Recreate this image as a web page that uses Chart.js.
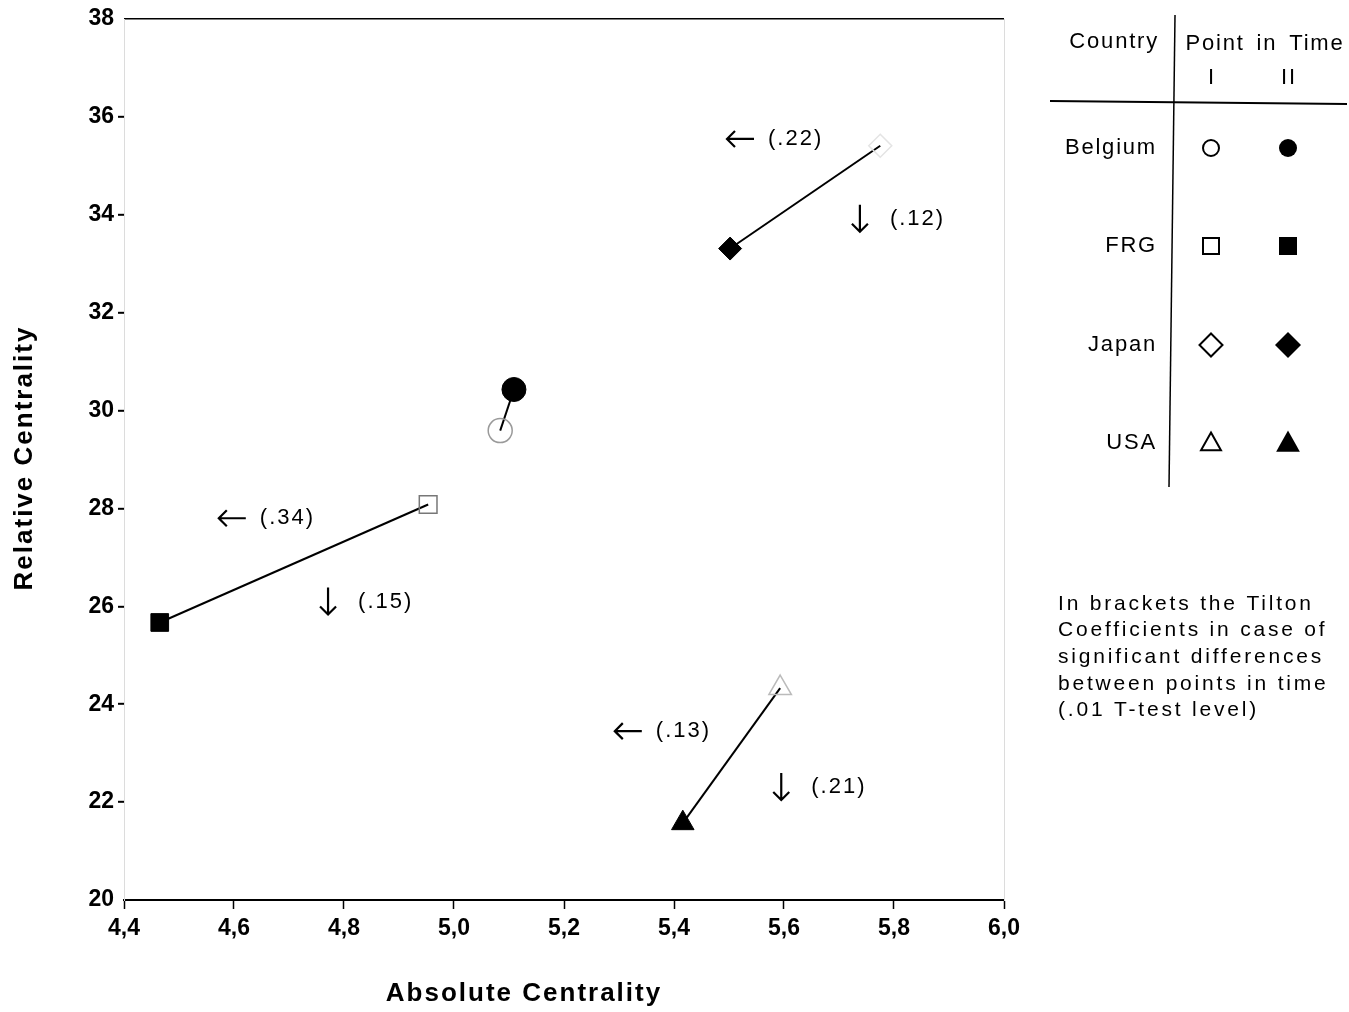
<!DOCTYPE html>
<html>
<head>
    <title>Absolute vs Relative Centrality</title>
    <script src="https://cdn.jsdelivr.net/npm/chart.js"></script>
    <style>
        body {
            margin: 0;
            background-color: white;
        }
        #centralityChart {
            display: block;
        }
    </style>
</head>
<body>
    <canvas id="centralityChart" width="1349" height="1012"></canvas>

    <script>
        // values: [point in time I, point in time II]
        const countries = ['Belgium', 'FRG', 'Japan', 'USA'];
        const absoluteI  = [5.084, 4.953, 5.775, 5.593];
        const relativeI  = [29.59, 28.08, 35.41, 24.33];
        const absoluteII = [5.109, 4.465, 5.502, 5.416];
        const relativeII = [30.43, 25.67, 33.31, 21.57];

        // Tilton coefficients, placed next to each connecting line
        const coefText = ['(.22)', '(.12)', '(.34)', '(.15)', '(.13)', '(.21)'];
        const coefArrow = ['left', 'down', 'left', 'down', 'left', 'down'];
        const coefX = [5.52, 5.738, 4.596, 4.771, 5.316, 5.595];
        const coefY = [35.55, 33.92, 27.80, 26.10, 23.45, 22.31];

        const xTicks = [4.4, 4.6, 4.8, 5.0, 5.2, 5.4, 5.6, 5.8, 6.0];
        const yTicks = [20, 22, 24, 26, 28, 30, 32, 34, 36, 38];

        const noteLines = [
            'In brackets the Tilton',
            'Coefficients in case of',
            'significant differences',
            'between points in time',
            '(.01 T-test level)'
        ];

        const markerStyle = ['circle', 'rect', 'rectRot', 'triangle'];
        const markerRadius = [12, 12.5, 11.5, 13];
        const openColor = ['#9a9a9a', '#777', '#e4e4e4', '#bbb']; // faded open markers in the scan

        const textFont = "'Liberation Sans', Arial, sans-serif";

        const datasets = countries.map((name, i) => ({
            label: name,
            data: [
                { x: absoluteI[i], y: relativeI[i] },
                { x: absoluteII[i], y: relativeII[i] }
            ],
            showLine: true,
            borderColor: 'black',
            borderWidth: 2,
            pointStyle: markerStyle[i],
            pointRadius: markerRadius[i],
            pointBorderWidth: [1.5, 1],
            pointBackgroundColor: ['rgba(0,0,0,0)', 'black'],
            pointBorderColor: [openColor[i], 'black']
        }));

        function drawMark(ctx, style, x, y, r, filled) {
            ctx.beginPath();
            if (style === 'circle') {
                ctx.arc(x, y, r, 0, Math.PI * 2);
            } else if (style === 'rect') {
                ctx.rect(x - r, y - r, 2 * r, 2 * r);
            } else if (style === 'rectRot') {
                ctx.moveTo(x, y - r); ctx.lineTo(x + r, y); ctx.lineTo(x, y + r); ctx.lineTo(x - r, y);
                ctx.closePath();
            } else {
                ctx.moveTo(x, y - r); ctx.lineTo(x + r * 0.95, y + r * 0.7); ctx.lineTo(x - r * 0.95, y + r * 0.7);
                ctx.closePath();
            }
            if (filled) {
                ctx.fillStyle = 'black';
                ctx.fill();
            } else {
                ctx.lineWidth = 2;
                ctx.strokeStyle = 'black';
                ctx.stroke();
            }
        }

        const extras = {
            id: 'extras',
            afterDraw(chart) {
                const ctx = chart.ctx;
                const xs = chart.scales.x, ys = chart.scales.y;
                ctx.save();
                ctx.fillStyle = 'black';
                ctx.strokeStyle = 'black';

                // coefficient annotations with arrows
                ctx.font = '22px ' + textFont;
                ctx.letterSpacing = '2px';
                ctx.textBaseline = 'middle';
                ctx.textAlign = 'left';
                ctx.lineWidth = 2.2;
                coefText.forEach((t, i) => {
                    const px = xs.getPixelForValue(coefX[i]);
                    const py = ys.getPixelForValue(coefY[i]);
                    ctx.beginPath();
                    if (coefArrow[i] === 'left') {
                        ctx.moveTo(px + 14, py); ctx.lineTo(px - 13, py);
                        ctx.moveTo(px - 5, py - 8); ctx.lineTo(px - 13, py); ctx.lineTo(px - 5, py + 8);
                        ctx.stroke();
                        ctx.fillText(t, px + 28, py);
                    } else {
                        ctx.moveTo(px, py - 14); ctx.lineTo(px, py + 13);
                        ctx.moveTo(px - 8, py + 5); ctx.lineTo(px, py + 13); ctx.lineTo(px + 8, py + 5);
                        ctx.stroke();
                        ctx.fillText(t, px + 30, py);
                    }
                });

                // axis titles
                ctx.font = 'bold 26px ' + textFont;
                ctx.letterSpacing = '2px';
                ctx.textAlign = 'center';
                ctx.fillText('Absolute Centrality', 524, 994);
                ctx.save();
                ctx.translate(25, 458);
                ctx.rotate(-Math.PI / 2);
                ctx.fillText('Relative Centrality', 0, 0);
                ctx.restore();

                // legend table
                ctx.font = '22px ' + textFont;
                ctx.letterSpacing = '1.8px';
                ctx.textAlign = 'right';
                ctx.fillText('Country', 1159, 42);
                ctx.textAlign = 'center';
                ctx.wordSpacing = '4px';
                ctx.fillText('Point in Time', 1265, 44);
                ctx.wordSpacing = '0px';
                ctx.fillText('I', 1212, 78);
                ctx.fillText('II', 1289, 78);
                ctx.lineWidth = 2;
                ctx.beginPath();
                ctx.moveTo(1050, 101); ctx.lineTo(1347, 104);
                ctx.stroke();
                ctx.lineWidth = 1.5;
                ctx.beginPath();
                ctx.moveTo(1175, 15); ctx.lineTo(1169, 487);
                ctx.stroke();
                const rowY = [148, 246, 345, 443];
                const openR = [8, 8, 11.5, 10.5];
                const fillR = [9, 9, 13, 12.5];
                countries.forEach((name, i) => {
                    ctx.textAlign = 'right';
                    ctx.fillStyle = 'black';
                    ctx.fillText(name, 1157, rowY[i]);
                    drawMark(ctx, markerStyle[i], 1211, rowY[i], openR[i], false);
                    drawMark(ctx, markerStyle[i], 1288, rowY[i], fillR[i], true);
                });

                // note
                ctx.fillStyle = 'black';
                ctx.font = '21px ' + textFont;
                ctx.letterSpacing = '2.8px';
                ctx.textAlign = 'left';
                noteLines.forEach((line, i) => {
                    ctx.fillText(line, 1058, 604 + i * 26.6);
                });
                ctx.restore();
            }
        };

        const ctx = document.getElementById('centralityChart').getContext('2d');
        const centralityChart = new Chart(ctx, {
            type: 'scatter',
            data: { datasets: datasets },
            options: {
                responsive: false,
                devicePixelRatio: 1,
                animation: false,
                layout: {
                    padding: { left: 0, right: 345, top: 19, bottom: 0 }
                },
                plugins: {
                    legend: { display: false },
                    tooltip: { enabled: false }
                },
                scales: {
                    x: {
                        type: 'linear',
                        min: 4.4,
                        max: 6.0,
                        afterFit: (scale) => { scale.height = 112; },
                        afterBuildTicks: (scale) => { scale.ticks = xTicks.map(v => ({ value: v })); },
                        border: { color: 'black', width: 2 },
                        grid: {
                            drawOnChartArea: false,
                            drawTicks: true,
                            tickLength: 9,
                            tickColor: 'black',
                            tickWidth: 1.5
                        },
                        ticks: {
                            color: 'black',
                            padding: 6,
                            maxRotation: 0,
                            font: { family: textFont, size: 23, weight: 'bold' },
                            callback: (v) => v.toFixed(1).replace('.', ',')
                        }
                    },
                    y: {
                        type: 'linear',
                        min: 20,
                        max: 38,
                        weight: 1,
                        afterFit: (scale) => { scale.width = 124; },
                        afterBuildTicks: (scale) => { scale.ticks = yTicks.map(v => ({ value: v })); },
                        border: { display: false },
                        grid: {
                            drawOnChartArea: true,
                            drawTicks: true,
                            tickLength: 6,
                            tickWidth: 2,
                            lineWidth: 1.6,
                            color: (c) => c.tick && c.tick.value === 38 ? 'black' : 'rgba(0,0,0,0)',
                            tickColor: (c) => c.tick && (c.tick.value === 20 || c.tick.value === 38) ? 'rgba(0,0,0,0)' : 'black'
                        },
                        ticks: {
                            color: 'black',
                            padding: 4,
                            font: { family: textFont, size: 23, weight: 'bold' }
                        }
                    },
                    yLeftEdge: {
                        type: 'linear',
                        position: 'left',
                        min: 20,
                        max: 38,
                        weight: 0,
                        afterFit: (scale) => { scale.width = 0; },
                        border: { color: '#dcdcdc', width: 1, dash: [2, 6] },
                        grid: { display: false },
                        ticks: { display: false }
                    },
                    yRightEdge: {
                        type: 'linear',
                        position: 'right',
                        min: 20,
                        max: 38,
                        afterFit: (scale) => { scale.width = 0; },
                        border: { color: '#dcdcdc', width: 1, dash: [2, 7] },
                        grid: { display: false },
                        ticks: { display: false }
                    }
                }
            },
            plugins: [extras]
        });
    </script>
</body>
</html>
